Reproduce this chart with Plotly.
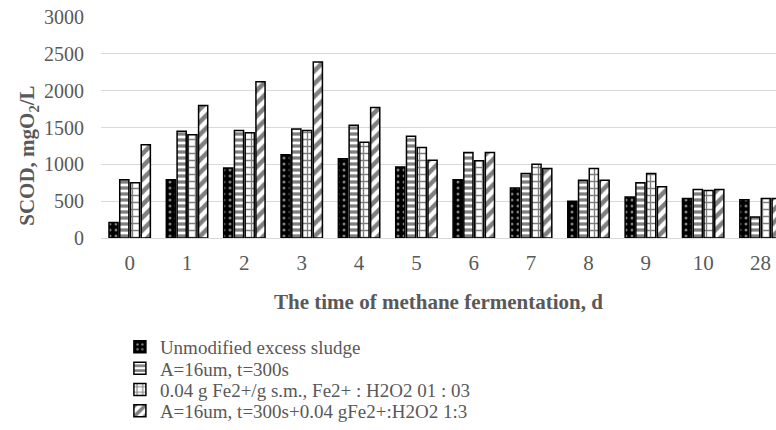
import plotly.graph_objects as go

categories = ["0", "1", "2", "3", "4", "5", "6", "7", "8", "9", "10", "28"]
series_names = [
    "Unmodified excess sludge",
    "A=16um, t=300s",
    "0.04 g Fe2+/g s.m., Fe2+ : H2O2 01 : 03",
    "A=16um, t=300s+0.04 gFe2+:H2O2 1:3",
]
unmodified = [210, 790, 950, 1130, 1075, 965, 790, 680, 500, 555, 535, 520]
ultrasound = [790, 1450, 1460, 1480, 1530, 1380, 1160, 875, 785, 750, 660, 285]
fenton = [750, 1400, 1430, 1460, 1300, 1230, 1050, 1000, 945, 875, 645, 535]
combined = [1265, 1800, 2120, 2390, 1770, 1055, 1160, 945, 785, 695, 660, 535]
y_ticks = [0, 500, 1000, 1500, 2000, 2500, 3000]

FONT = "Liberation Serif"
GRAY = "#595959"

patterns = [
    dict(shape=".", fgcolor="white", bgcolor="black", size=6, solidity=0.2),
    dict(shape="-", fgcolor="black", bgcolor="white", size=6, solidity=0.55),
    dict(shape="+", fgcolor="black", bgcolor="white", size=7, solidity=0.35),
    dict(shape="/", fgcolor="black", bgcolor="white", size=9, solidity=0.5),
]
fills = ["black", "white", "white", "white"]
values = [unmodified, ultrasound, fenton, combined]
legend_ids = ["legend", "legend2", "legend3", "legend4"]

fig = go.Figure()
for name, vals, pat, fill, lg in zip(series_names, values, patterns, fills, legend_ids):
    fig.add_trace(go.Bar(
        x=categories, y=vals, name=name, legend=lg,
        marker=dict(color=fill, pattern=pat, line=dict(color="black", width=1.5)),
    ))

# plot area: left 101, top 17, bottom 240
H_PLOT = 223
def py(px):
    return (240 - px) / H_PLOT

legend_rows = [350, 371.5, 393, 414.5]
leg_common = dict(
    x=0.028, xanchor="left", yanchor="middle", bgcolor="rgba(0,0,0,0)",
    font=dict(family=FONT, size=19, color=GRAY), itemwidth=30,
)
layout_legends = {}
for lg, row in zip(legend_ids, legend_rows):
    layout_legends[lg] = dict(leg_common, y=py(row))

fig.update_layout(
    width=776, height=430,
    margin=dict(l=101, r=0, t=17, b=190),
    paper_bgcolor="white", plot_bgcolor="white",
    barmode="group", bargap=0.25, bargroupgap=0.15,
    showlegend=True,
    font=dict(family=FONT, color=GRAY),
    xaxis=dict(
        type="category", range=[-0.5, 11.27],
        showgrid=False, showline=True, linecolor="#d9d9d9", linewidth=1,
        ticks="", tickfont=dict(family=FONT, size=21, color=GRAY),
        ticklabelstandoff=6,
        title=dict(text="<b>The time of methane fermentation, d</b>",
                   font=dict(family=FONT, size=21, color=GRAY), standoff=20),
    ),
    yaxis=dict(
        range=[0, 3000], tickvals=y_ticks, showgrid=True, gridcolor="#d9d9d9",
        gridwidth=1, zeroline=False, ticks="",
        tickfont=dict(family=FONT, size=20, color=GRAY), ticklabelstandoff=16,
    ),
    annotations=[dict(
        text="<b>SCOD, mgO<sub>2</sub>/L</b>", textangle=-90,
        xref="paper", yref="paper", x=(28 - 101) / 675, y=py(157),
        xanchor="center", yanchor="middle", showarrow=False,
        font=dict(family=FONT, size=21, color=GRAY),
    )],
    **layout_legends,
)

fig.write_html("out.html", config={"displayModeBar": False},
               post_script="document.body.style.margin='0';")
